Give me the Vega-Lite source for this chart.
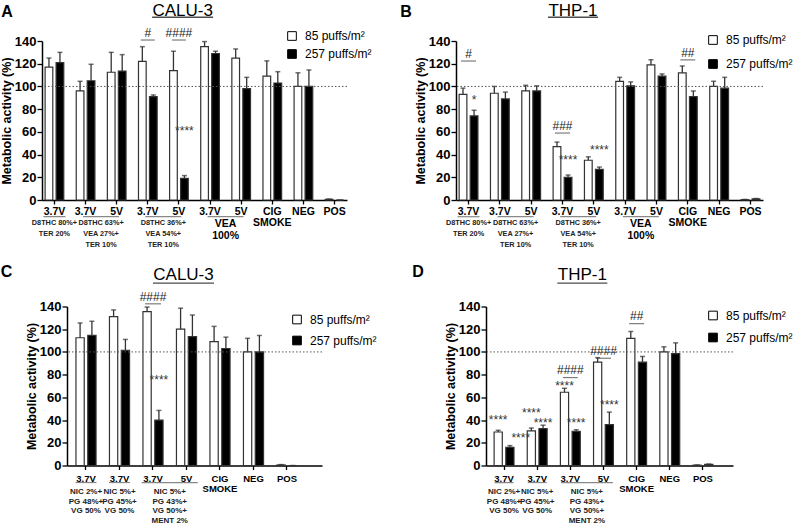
{
"$schema": "https://vega.github.io/schema/vega-lite/v6.json",
"padding": {"left": 0, "top": 2, "right": 0, "bottom": 0},
"config": {
  "view": {"stroke": null},
  "font": "Liberation Sans",
  "axis": {"grid": false, "domainColor": "black", "domainWidth": 1.5, "tickColor": "black", "tickWidth": 1.3, "labelColor": "black", "titleColor": "black"},
  "axisX": {"labels": false, "tickSize": 4},
  "axisY": {"tickSize": 5, "tickCount": 8, "labelFontSize": 13, "labelFontWeight": "bold", "labelPadding": 1, "labelOverlap": false, "titleFontSize": 12.5, "titleFontWeight": "bold", "titlePadding": 1},
  "legend": {"symbolType": "square", "symbolSize": 75, "symbolStrokeColor": "black", "symbolStrokeWidth": 1, "labelFontSize": 12, "labelColor": "black", "labelOffset": 7}
},
"datasets": {
  "barsA": [
    {"cat":"A1","dose":"85","val":117,"err":125},{"cat":"A1","dose":"257","val":121,"err":130},
    {"cat":"A2","dose":"85","val":96,"err":104.5},{"cat":"A2","dose":"257","val":105,"err":119.5},
    {"cat":"A3","dose":"85","val":112.5,"err":130},{"cat":"A3","dose":"257","val":113.5,"err":128},
    {"cat":"A4","dose":"85","val":122,"err":135},{"cat":"A4","dose":"257","val":91,"err":92.5},
    {"cat":"A5","dose":"85","val":114,"err":131},{"cat":"A5","dose":"257","val":19,"err":21.5},
    {"cat":"A6","dose":"85","val":135,"err":139.5},{"cat":"A6","dose":"257","val":129,"err":131},
    {"cat":"A7","dose":"85","val":125,"err":133},{"cat":"A7","dose":"257","val":98,"err":108},
    {"cat":"A8","dose":"85","val":109,"err":122.5},{"cat":"A8","dose":"257","val":103,"err":113},
    {"cat":"A9","dose":"85","val":100,"err":112},{"cat":"A9","dose":"257","val":100,"err":114.5},
    {"cat":"A10","dose":"85","val":0.6,"err":0.9},{"cat":"A10","dose":"257","val":0,"err":0}
  ],
  "barsB": [
    {"cat":"B1","dose":"85","val":93,"err":98.5},{"cat":"B1","dose":"257","val":74,"err":79},
    {"cat":"B2","dose":"85","val":94,"err":100},{"cat":"B2","dose":"257","val":89,"err":95},
    {"cat":"B3","dose":"85","val":96,"err":101},{"cat":"B3","dose":"257","val":96,"err":100.5},
    {"cat":"B4","dose":"85","val":47,"err":51},{"cat":"B4","dose":"257","val":20,"err":22},
    {"cat":"B5","dose":"85","val":35,"err":38},{"cat":"B5","dose":"257","val":27,"err":29},
    {"cat":"B6","dose":"85","val":104.5,"err":108},{"cat":"B6","dose":"257","val":100.5,"err":104},
    {"cat":"B7","dose":"85","val":119,"err":123.5},{"cat":"B7","dose":"257","val":109,"err":111},
    {"cat":"B8","dose":"85","val":112,"err":118},{"cat":"B8","dose":"257","val":91,"err":96},
    {"cat":"B9","dose":"85","val":100,"err":104.5},{"cat":"B9","dose":"257","val":98.5,"err":108},
    {"cat":"B10","dose":"85","val":0.3,"err":0.5},{"cat":"B10","dose":"257","val":1,"err":1.3}
  ],
  "barsC": [
    {"cat":"C1","dose":"85","val":112.5,"err":125.5},{"cat":"C1","dose":"257","val":114.5,"err":127},
    {"cat":"C2","dose":"85","val":131,"err":137},{"cat":"C2","dose":"257","val":101.5,"err":111},
    {"cat":"C3","dose":"85","val":135.5,"err":139.5},{"cat":"C3","dose":"257","val":40,"err":48.5},
    {"cat":"C4","dose":"85","val":120,"err":138.5},{"cat":"C4","dose":"257","val":113.5,"err":132.5},
    {"cat":"C5","dose":"85","val":109,"err":122.5},{"cat":"C5","dose":"257","val":103,"err":113},
    {"cat":"C6","dose":"85","val":100,"err":112},{"cat":"C6","dose":"257","val":100,"err":114.5},
    {"cat":"C7","dose":"85","val":0.5,"err":0.8},{"cat":"C7","dose":"257","val":0,"err":0}
  ],
  "barsD": [
    {"cat":"D1","dose":"85","val":29.5,"err":31},{"cat":"D1","dose":"257","val":16,"err":17.5},
    {"cat":"D2","dose":"85","val":30.5,"err":33},{"cat":"D2","dose":"257","val":32.5,"err":35.5},
    {"cat":"D3","dose":"85","val":64.5,"err":68},{"cat":"D3","dose":"257","val":30,"err":31.5},
    {"cat":"D4","dose":"85","val":91,"err":95},{"cat":"D4","dose":"257","val":36,"err":47},
    {"cat":"D5","dose":"85","val":112,"err":118},{"cat":"D5","dose":"257","val":91,"err":96},
    {"cat":"D6","dose":"85","val":100,"err":104.5},{"cat":"D6","dose":"257","val":98.5,"err":108},
    {"cat":"D7","dose":"85","val":0.3,"err":0.5},{"cat":"D7","dose":"257","val":1,"err":1.3}
  ],
  "labA": [
    {"cat":"A1","lab":"3.7V"},{"cat":"A2","lab":"3.7V"},{"cat":"A3","lab":"5V"},{"cat":"A4","lab":"3.7V"},{"cat":"A5","lab":"5V"},
    {"cat":"A6","lab":"3.7V"},{"cat":"A7","lab":"5V"},{"cat":"A8","lab":"CIG\nSMOKE"},{"cat":"A9","lab":"NEG"},{"cat":"A10","lab":"POS"}
  ],
  "labB": [
    {"cat":"B1","lab":"3.7V"},{"cat":"B2","lab":"3.7V"},{"cat":"B3","lab":"5V"},{"cat":"B4","lab":"3.7V"},{"cat":"B5","lab":"5V"},
    {"cat":"B6","lab":"3.7V"},{"cat":"B7","lab":"5V"},{"cat":"B8","lab":"CIG\nSMOKE"},{"cat":"B9","lab":"NEG"},{"cat":"B10","lab":"POS"}
  ],
  "labC": [
    {"cat":"C1","lab":"3.7V"},{"cat":"C2","lab":"3.7V"},{"cat":"C3","lab":"3.7V"},{"cat":"C4","lab":"5V"},
    {"cat":"C5","lab":"CIG\nSMOKE"},{"cat":"C6","lab":"NEG"},{"cat":"C7","lab":"POS"}
  ],
  "labD": [
    {"cat":"D1","lab":"3.7V"},{"cat":"D2","lab":"3.7V"},{"cat":"D3","lab":"3.7V"},{"cat":"D4","lab":"5V"},
    {"cat":"D5","lab":"CIG\nSMOKE"},{"cat":"D6","lab":"NEG"},{"cat":"D7","lab":"POS"}
  ],
  "subA": [
    {"cat":"A1","sub":"D8THC 80%+\nTER 20%","span":false},
    {"cat":"A2","sub":"D8THC 63%+\nVEA 27%+\nTER 10%","span":true},
    {"cat":"A4","sub":"D8THC 36%+\nVEA 54%+\nTER 10%","span":true},
    {"cat":"A6","sub":"VEA\n100%","span":true}
  ],
  "subB": [
    {"cat":"B1","sub":"D8THC 80%+\nTER 20%","span":false},
    {"cat":"B2","sub":"D8THC 63%+\nVEA 27%+\nTER 10%","span":true},
    {"cat":"B4","sub":"D8THC 36%+\nVEA 54%+\nTER 10%","span":true},
    {"cat":"B6","sub":"VEA\n100%","span":true}
  ],
  "subC": [
    {"cat":"C1","sub":"NIC 2%+\nPG 48%+\nVG 50%","span":false},
    {"cat":"C2","sub":"NIC 5%+\nPG 45%+\nVG 50%","span":false},
    {"cat":"C3","sub":"NIC 5%+\nPG 43%+\nVG 50%+\nMENT 2%","span":true}
  ],
  "subD": [
    {"cat":"D1","sub":"NIC 2%+\nPG 48%+\nVG 50%","span":false},
    {"cat":"D2","sub":"NIC 5%+\nPG 45%+\nVG 50%","span":false},
    {"cat":"D3","sub":"NIC 5%+\nPG 43%+\nVG 50%+\nMENT 2%","span":true}
  ],
  "hashA": [{"cat":"A4","txt":"#","y":143.5},{"cat":"A5","txt":"####","y":143.5}],
  "hashB": [{"cat":"B1","txt":"#","y":125},{"cat":"B4","txt":"###","y":61.6},{"cat":"B8","txt":"##","y":126}],
  "hashC": [{"cat":"C3","txt":"####","y":145}],
  "hashD": [{"cat":"D3","txt":"####","y":80.5},{"cat":"D4","txt":"####","y":97.5},{"cat":"D5","txt":"##","y":128}],
  "starA": [{"cat":"A5","dose":"257","txt":"****","y":57.5,"side":"c"}],
  "starB": [
    {"cat":"B1","dose":"257","txt":"*","y":84.8,"side":"c"},
    {"cat":"B4","dose":"257","txt":"****","y":32,"side":"c"},
    {"cat":"B5","dose":"257","txt":"****","y":40.8,"side":"c"}
  ],
  "starC": [{"cat":"C3","dose":"257","txt":"****","y":71.6,"side":"c"}],
  "starD": [
    {"cat":"D1","dose":"85","txt":"****","y":36.6,"side":"c"},
    {"cat":"D1","dose":"257","txt":"****","y":20.5,"side":"r"},
    {"cat":"D2","dose":"85","txt":"****","y":42.4,"side":"c"},
    {"cat":"D2","dose":"257","txt":"****","y":33.6,"side":"c"},
    {"cat":"D3","dose":"85","txt":"****","y":66.4,"side":"c"},
    {"cat":"D3","dose":"257","txt":"****","y":33.6,"side":"c"},
    {"cat":"D4","dose":"257","txt":"****","y":49.5,"side":"c"}
  ]
},
"spacing": 23,
"bounds": "full",
"resolve": {"scale": {"x": "independent", "y": "independent", "fill": "independent", "xOffset": "independent"}, "legend": {"fill": "independent"}, "axis": {"x": "independent", "y": "independent"}},
"hconcat": [
{
"vconcat": [
{
  "width": 305, "height": 159,
  "layer": [
    {"data": {"name": "barsA"}, "mark": {"type": "bar", "stroke": "#333", "strokeWidth": 1.2},
     "encoding": {
      "x": {"field": "cat", "type": "nominal", "title": null, "scale": {"domain": ["A1","A2","A3","A4","A5","A6","A7","A8","A9","A10"], "paddingInner": 0.4, "paddingOuter": 0.1}},
      "xOffset": {"field": "dose", "type": "nominal", "scale": {"domain": ["85","257"], "paddingInner": 0.3}},
      "y": {"field": "val", "type": "quantitative", "scale": {"domain": [0, 140], "nice": false}, "axis": {"title": "Metabolic activity (%)", "values": [0,20,40,60,80,100,120,140]}},
      "fill": {"field": "dose", "type": "nominal", "scale": {"domain": ["85","257"], "range": ["white","black"]},
               "legend": {"title": null, "orient": "none", "legendX": 244, "legendY": -11, "rowPadding": 4, "labelExpr": "datum.label + ' puffs/m²'"}}
     }},
    {"data": {"name": "barsA"}, "mark": {"type": "rule", "color": "#333", "strokeWidth": 1.3},
     "encoding": {"x": {"field": "cat", "type": "nominal"}, "xOffset": {"field": "dose", "type": "nominal"}, "y": {"field": "val", "type": "quantitative"}, "y2": {"field": "err"}}},
    {"data": {"name": "barsA"}, "mark": {"type": "tick", "orient": "horizontal", "size": 5, "thickness": 1.5, "color": "#333"},
     "encoding": {"x": {"field": "cat", "type": "nominal"}, "xOffset": {"field": "dose", "type": "nominal"}, "y": {"field": "err", "type": "quantitative"}}},
    {"data": {"values": [{}]}, "mark": {"type": "rule", "color": "#555", "strokeDash": [1.5, 2], "strokeWidth": 1}, "encoding": {"y": {"datum": 100}}},
    {"data": {"name": "labA"}, "mark": {"type": "text", "baseline": "top", "fontSize": 10.5, "fontWeight": "bold", "lineBreak": "\n", "lineHeight": 11, "color": "black"},
     "encoding": {"x": {"field": "cat", "type": "nominal"}, "y": {"datum": -6.2}, "text": {"field": "lab"}}},
    {"data": {"name": "subA"}, "transform": [{"filter": "!datum.span"}], "mark": {"type": "text", "baseline": "top", "fontSize": 7.3, "fontWeight": "bold", "lineBreak": "\n", "lineHeight": 11, "color": "#222"},
     "encoding": {"x": {"field": "cat", "type": "nominal"}, "y": {"datum": -17}, "text": {"field": "sub"}}},
    {"data": {"name": "subA"}, "transform": [{"filter": "datum.span && datum.cat != 'A6'"}], "mark": {"type": "text", "baseline": "top", "fontSize": 7.3, "fontWeight": "bold", "lineBreak": "\n", "lineHeight": 11, "color": "#222", "dx": 15.5},
     "encoding": {"x": {"field": "cat", "type": "nominal"}, "y": {"datum": -17}, "text": {"field": "sub"}}},
    {"data": {"name": "subA"}, "transform": [{"filter": "datum.cat == 'A6'"}], "mark": {"type": "text", "baseline": "top", "fontSize": 10.5, "fontWeight": "bold", "lineBreak": "\n", "lineHeight": 11.5, "color": "black", "dx": 15.5},
     "encoding": {"x": {"field": "cat", "type": "nominal"}, "y": {"datum": -17}, "text": {"field": "sub"}}},
    {"data": {"name": "subA"}, "transform": [{"filter": "!datum.span"}], "mark": {"type": "tick", "orient": "horizontal", "size": 22, "thickness": 1.2, "color": "#555"},
     "encoding": {"x": {"field": "cat", "type": "nominal"}, "y": {"datum": -14.7}}},
    {"data": {"name": "subA"}, "transform": [{"filter": "datum.span"}], "mark": {"type": "tick", "orient": "horizontal", "size": 36, "thickness": 1.2, "color": "#555", "xOffset": 15.5},
     "encoding": {"x": {"field": "cat", "type": "nominal"}, "y": {"datum": -14.7}}},
    {"data": {"name": "hashA"}, "mark": {"type": "text", "baseline": "alphabetic", "fontSize": 12, "color": "#222"},
     "encoding": {"x": {"field": "cat", "type": "nominal"}, "y": {"field": "y", "type": "quantitative"}, "text": {"field": "txt"}}},
    {"data": {"name": "hashA"}, "mark": {"type": "tick", "orient": "horizontal", "size": 14, "thickness": 1.2, "color": "#444", "yOffset": 3},
     "encoding": {"x": {"field": "cat", "type": "nominal"}, "y": {"field": "y", "type": "quantitative"}}},
    {"data": {"name": "starA"}, "mark": {"type": "text", "baseline": "alphabetic", "fontSize": 12, "color": "#333"},
     "encoding": {"x": {"field": "cat", "type": "nominal"}, "xOffset": {"field": "dose", "type": "nominal"}, "y": {"field": "y", "type": "quantitative"}, "text": {"field": "txt"}}},
    {"data": {"values": [{}]}, "mark": {"type": "text", "fontSize": 17, "baseline": "middle", "dx": 3.7, "color": "black"},
     "encoding": {"x": {"datum": "A5", "type": "nominal"}, "y": {"datum": 166}, "text": {"value": "CALU-3"}}},
    {"data": {"values": [{}]}, "mark": {"type": "tick", "orient": "horizontal", "size": 61, "thickness": 1.3, "color": "black", "xOffset": 3.7},
     "encoding": {"x": {"datum": "A5", "type": "nominal"}, "y": {"datum": 160.9}}},
    {"data": {"values": [{}]}, "mark": {"type": "text", "fontSize": 16, "fontWeight": "bold", "baseline": "middle", "dx": -47.4, "color": "black"},
     "encoding": {"x": {"datum": "A1", "type": "nominal"}, "y": {"datum": 165.7}, "text": {"value": "A"}}}
  ]
},
{
  "width": 255, "height": 159,
  "layer": [
    {"data": {"name": "barsC"}, "mark": {"type": "bar", "stroke": "#333", "strokeWidth": 1.2},
     "encoding": {
      "x": {"field": "cat", "type": "nominal", "title": null, "scale": {"domain": ["C1","C2","C3","C4","C5","C6","C7"], "paddingInner": 0.4, "paddingOuter": 0.506, "align": 0.264}},
      "xOffset": {"field": "dose", "type": "nominal", "scale": {"domain": ["85","257"], "paddingInner": 0.3}},
      "y": {"field": "val", "type": "quantitative", "scale": {"domain": [0, 140], "nice": false}, "axis": {"title": "Metabolic activity (%)", "values": [0,20,40,60,80,100,120,140]}},
      "fill": {"field": "dose", "type": "nominal", "scale": {"domain": ["85","257"], "range": ["white","black"]},
               "legend": {"title": null, "orient": "none", "legendX": 224, "legendY": 7, "rowPadding": 7, "labelExpr": "datum.label + ' puffs/m²'"}}
     }},
    {"data": {"name": "barsC"}, "mark": {"type": "rule", "color": "#333", "strokeWidth": 1.3},
     "encoding": {"x": {"field": "cat", "type": "nominal"}, "xOffset": {"field": "dose", "type": "nominal"}, "y": {"field": "val", "type": "quantitative"}, "y2": {"field": "err"}}},
    {"data": {"name": "barsC"}, "mark": {"type": "tick", "orient": "horizontal", "size": 5, "thickness": 1.5, "color": "#333"},
     "encoding": {"x": {"field": "cat", "type": "nominal"}, "xOffset": {"field": "dose", "type": "nominal"}, "y": {"field": "err", "type": "quantitative"}}},
    {"data": {"values": [{}]}, "mark": {"type": "rule", "color": "#555", "strokeDash": [1.5, 2], "strokeWidth": 1}, "encoding": {"y": {"datum": 100}}},
    {"data": {"name": "labC"}, "mark": {"type": "text", "baseline": "top", "fontSize": 9.5, "fontWeight": "bold", "lineBreak": "\n", "lineHeight": 10, "color": "black"},
     "encoding": {"x": {"field": "cat", "type": "nominal"}, "y": {"datum": -7.9}, "text": {"field": "lab"}}},
    {"data": {"name": "subC"}, "transform": [{"filter": "!datum.span"}], "mark": {"type": "text", "baseline": "top", "fontSize": 8, "fontWeight": "bold", "lineBreak": "\n", "lineHeight": 9.8, "color": "#222"},
     "encoding": {"x": {"field": "cat", "type": "nominal"}, "y": {"datum": -19.6}, "text": {"field": "sub"}}},
    {"data": {"name": "subC"}, "transform": [{"filter": "datum.span"}], "mark": {"type": "text", "baseline": "top", "fontSize": 8, "fontWeight": "bold", "lineBreak": "\n", "lineHeight": 9.8, "color": "#222", "dx": 16.75},
     "encoding": {"x": {"field": "cat", "type": "nominal"}, "y": {"datum": -19.6}, "text": {"field": "sub"}}},
    {"data": {"name": "subC"}, "transform": [{"filter": "!datum.span"}], "mark": {"type": "tick", "orient": "horizontal", "size": 21, "thickness": 1.2, "color": "#555"},
     "encoding": {"x": {"field": "cat", "type": "nominal"}, "y": {"datum": -15}}},
    {"data": {"name": "subC"}, "transform": [{"filter": "datum.span"}], "mark": {"type": "tick", "orient": "horizontal", "size": 56, "thickness": 1.2, "color": "#555", "xOffset": 16.75},
     "encoding": {"x": {"field": "cat", "type": "nominal"}, "y": {"datum": -15}}},
    {"data": {"name": "hashC"}, "mark": {"type": "text", "baseline": "alphabetic", "fontSize": 12, "color": "#222"},
     "encoding": {"x": {"field": "cat", "type": "nominal"}, "y": {"field": "y", "type": "quantitative"}, "text": {"field": "txt"}}},
    {"data": {"name": "hashC"}, "mark": {"type": "tick", "orient": "horizontal", "size": 16, "thickness": 1.2, "color": "#444", "yOffset": 3},
     "encoding": {"x": {"field": "cat", "type": "nominal"}, "y": {"field": "y", "type": "quantitative"}}},
    {"data": {"name": "starC"}, "mark": {"type": "text", "baseline": "alphabetic", "fontSize": 12, "color": "#333"},
     "encoding": {"x": {"field": "cat", "type": "nominal"}, "xOffset": {"field": "dose", "type": "nominal"}, "y": {"field": "y", "type": "quantitative"}, "text": {"field": "txt"}}},
    {"data": {"values": [{}]}, "mark": {"type": "text", "fontSize": 17, "baseline": "middle", "dx": -3, "color": "black"},
     "encoding": {"x": {"datum": "C4", "type": "nominal"}, "y": {"datum": 168}, "text": {"value": "CALU-3"}}},
    {"data": {"values": [{}]}, "mark": {"type": "tick", "orient": "horizontal", "size": 61, "thickness": 1.3, "color": "black", "xOffset": -3},
     "encoding": {"x": {"datum": "C4", "type": "nominal"}, "y": {"datum": 160.5}}},
    {"data": {"values": [{}]}, "mark": {"type": "text", "fontSize": 16, "fontWeight": "bold", "baseline": "middle", "dx": -79.5, "color": "black"},
     "encoding": {"x": {"datum": "C1", "type": "nominal"}, "y": {"datum": 170}, "text": {"value": "C"}}}
  ]
}
],
"spacing": 106.5, "bounds": "flush", "center": true,
"resolve": {"scale": {"x": "independent", "y": "independent", "fill": "independent", "xOffset": "independent"}, "legend": {"fill": "independent"}, "axis": {"x": "independent", "y": "independent"}}
},
{
"vconcat": [
{
  "width": 307, "height": 159,
  "layer": [
    {"data": {"name": "barsB"}, "mark": {"type": "bar", "stroke": "#333", "strokeWidth": 1.2},
     "encoding": {
      "x": {"field": "cat", "type": "nominal", "title": null, "scale": {"domain": ["B1","B2","B3","B4","B5","B6","B7","B8","B9","B10"], "paddingInner": 0.4, "paddingOuter": 0.1}},
      "xOffset": {"field": "dose", "type": "nominal", "scale": {"domain": ["85","257"], "paddingInner": 0.3}},
      "y": {"field": "val", "type": "quantitative", "scale": {"domain": [0, 140], "nice": false}, "axis": {"title": "Metabolic activity (%)", "values": [0,20,40,60,80,100,120,140]}},
      "fill": {"field": "dose", "type": "nominal", "scale": {"domain": ["85","257"], "range": ["white","black"]},
               "legend": {"title": null, "orient": "none", "legendX": 251, "legendY": -7, "rowPadding": 10, "labelExpr": "datum.label + ' puffs/m²'"}}
     }},
    {"data": {"name": "barsB"}, "mark": {"type": "rule", "color": "#333", "strokeWidth": 1.3},
     "encoding": {"x": {"field": "cat", "type": "nominal"}, "xOffset": {"field": "dose", "type": "nominal"}, "y": {"field": "val", "type": "quantitative"}, "y2": {"field": "err"}}},
    {"data": {"name": "barsB"}, "mark": {"type": "tick", "orient": "horizontal", "size": 5, "thickness": 1.5, "color": "#333"},
     "encoding": {"x": {"field": "cat", "type": "nominal"}, "xOffset": {"field": "dose", "type": "nominal"}, "y": {"field": "err", "type": "quantitative"}}},
    {"data": {"values": [{}]}, "mark": {"type": "rule", "color": "#555", "strokeDash": [1.5, 2], "strokeWidth": 1}, "encoding": {"y": {"datum": 100}}},
    {"data": {"name": "labB"}, "mark": {"type": "text", "baseline": "top", "fontSize": 10.5, "fontWeight": "bold", "lineBreak": "\n", "lineHeight": 11, "color": "black"},
     "encoding": {"x": {"field": "cat", "type": "nominal"}, "y": {"datum": -6.2}, "text": {"field": "lab"}}},
    {"data": {"name": "subB"}, "transform": [{"filter": "!datum.span"}], "mark": {"type": "text", "baseline": "top", "fontSize": 7.3, "fontWeight": "bold", "lineBreak": "\n", "lineHeight": 11, "color": "#222"},
     "encoding": {"x": {"field": "cat", "type": "nominal"}, "y": {"datum": -17}, "text": {"field": "sub"}}},
    {"data": {"name": "subB"}, "transform": [{"filter": "datum.span && datum.cat != 'B6'"}], "mark": {"type": "text", "baseline": "top", "fontSize": 7.3, "fontWeight": "bold", "lineBreak": "\n", "lineHeight": 11, "color": "#222", "dx": 15.7},
     "encoding": {"x": {"field": "cat", "type": "nominal"}, "y": {"datum": -17}, "text": {"field": "sub"}}},
    {"data": {"name": "subB"}, "transform": [{"filter": "datum.cat == 'B6'"}], "mark": {"type": "text", "baseline": "top", "fontSize": 10.5, "fontWeight": "bold", "lineBreak": "\n", "lineHeight": 11.5, "color": "black", "dx": 15.7},
     "encoding": {"x": {"field": "cat", "type": "nominal"}, "y": {"datum": -17}, "text": {"field": "sub"}}},
    {"data": {"name": "subB"}, "transform": [{"filter": "!datum.span"}], "mark": {"type": "tick", "orient": "horizontal", "size": 22, "thickness": 1.2, "color": "#555"},
     "encoding": {"x": {"field": "cat", "type": "nominal"}, "y": {"datum": -14.7}}},
    {"data": {"name": "subB"}, "transform": [{"filter": "datum.span"}], "mark": {"type": "tick", "orient": "horizontal", "size": 36, "thickness": 1.2, "color": "#555", "xOffset": 15.7},
     "encoding": {"x": {"field": "cat", "type": "nominal"}, "y": {"datum": -14.7}}},
    {"data": {"name": "hashB"}, "mark": {"type": "text", "baseline": "alphabetic", "fontSize": 12, "color": "#222"},
     "encoding": {"x": {"field": "cat", "type": "nominal"}, "y": {"field": "y", "type": "quantitative"}, "text": {"field": "txt"}}},
    {"data": {"name": "hashB"}, "mark": {"type": "tick", "orient": "horizontal", "size": 15, "thickness": 1.2, "color": "#444", "yOffset": 3},
     "encoding": {"x": {"field": "cat", "type": "nominal"}, "y": {"field": "y", "type": "quantitative"}}},
    {"data": {"name": "starB"}, "mark": {"type": "text", "baseline": "alphabetic", "fontSize": 12, "color": "#333"},
     "encoding": {"x": {"field": "cat", "type": "nominal"}, "xOffset": {"field": "dose", "type": "nominal"}, "y": {"field": "y", "type": "quantitative"}, "text": {"field": "txt"}}},
    {"data": {"values": [{}]}, "mark": {"type": "text", "fontSize": 17, "baseline": "middle", "dx": 10.5, "color": "black"},
     "encoding": {"x": {"datum": "B4", "type": "nominal"}, "y": {"datum": 166}, "text": {"value": "THP-1"}}},
    {"data": {"values": [{}]}, "mark": {"type": "tick", "orient": "horizontal", "size": 50, "thickness": 1.3, "color": "black", "xOffset": 10.5},
     "encoding": {"x": {"datum": "B4", "type": "nominal"}, "y": {"datum": 160.9}}},
    {"data": {"values": [{}]}, "mark": {"type": "text", "fontSize": 16, "fontWeight": "bold", "baseline": "middle", "dx": -62.5, "color": "black"},
     "encoding": {"x": {"datum": "B1", "type": "nominal"}, "y": {"datum": 165.7}, "text": {"value": "B"}}}
  ]
},
{
  "width": 247, "height": 159,
  "layer": [
    {"data": {"name": "barsD"}, "mark": {"type": "bar", "stroke": "#333", "strokeWidth": 1.2},
     "encoding": {
      "x": {"field": "cat", "type": "nominal", "title": null, "scale": {"domain": ["D1","D2","D3","D4","D5","D6","D7"], "paddingInner": 0.4, "paddingOuter": 0.426, "align": 0.287}},
      "xOffset": {"field": "dose", "type": "nominal", "scale": {"domain": ["85","257"], "paddingInner": 0.3}},
      "y": {"field": "val", "type": "quantitative", "scale": {"domain": [0, 140], "nice": false}, "axis": {"title": "Metabolic activity (%)", "values": [0,20,40,60,80,100,120,140]}},
      "fill": {"field": "dose", "type": "nominal", "scale": {"domain": ["85","257"], "range": ["white","black"]},
               "legend": {"title": null, "orient": "none", "legendX": 221, "legendY": 3, "rowPadding": 8, "labelExpr": "datum.label + ' puffs/m²'"}}
     }},
    {"data": {"name": "barsD"}, "mark": {"type": "rule", "color": "#333", "strokeWidth": 1.3},
     "encoding": {"x": {"field": "cat", "type": "nominal"}, "xOffset": {"field": "dose", "type": "nominal"}, "y": {"field": "val", "type": "quantitative"}, "y2": {"field": "err"}}},
    {"data": {"name": "barsD"}, "mark": {"type": "tick", "orient": "horizontal", "size": 5, "thickness": 1.5, "color": "#333"},
     "encoding": {"x": {"field": "cat", "type": "nominal"}, "xOffset": {"field": "dose", "type": "nominal"}, "y": {"field": "err", "type": "quantitative"}}},
    {"data": {"values": [{}]}, "mark": {"type": "rule", "color": "#555", "strokeDash": [1.5, 2], "strokeWidth": 1}, "encoding": {"y": {"datum": 100}}},
    {"data": {"name": "labD"}, "mark": {"type": "text", "baseline": "top", "fontSize": 9.5, "fontWeight": "bold", "lineBreak": "\n", "lineHeight": 10, "color": "black"},
     "encoding": {"x": {"field": "cat", "type": "nominal"}, "y": {"datum": -7.9}, "text": {"field": "lab"}}},
    {"data": {"name": "subD"}, "transform": [{"filter": "!datum.span"}], "mark": {"type": "text", "baseline": "top", "fontSize": 8, "fontWeight": "bold", "lineBreak": "\n", "lineHeight": 9.8, "color": "#222"},
     "encoding": {"x": {"field": "cat", "type": "nominal"}, "y": {"datum": -19.6}, "text": {"field": "sub"}}},
    {"data": {"name": "subD"}, "transform": [{"filter": "datum.span"}], "mark": {"type": "text", "baseline": "top", "fontSize": 8, "fontWeight": "bold", "lineBreak": "\n", "lineHeight": 9.8, "color": "#222", "dx": 16.55},
     "encoding": {"x": {"field": "cat", "type": "nominal"}, "y": {"datum": -19.6}, "text": {"field": "sub"}}},
    {"data": {"name": "subD"}, "transform": [{"filter": "!datum.span"}], "mark": {"type": "tick", "orient": "horizontal", "size": 19, "thickness": 1.2, "color": "#555"},
     "encoding": {"x": {"field": "cat", "type": "nominal"}, "y": {"datum": -15}}},
    {"data": {"name": "subD"}, "transform": [{"filter": "datum.span"}], "mark": {"type": "tick", "orient": "horizontal", "size": 52, "thickness": 1.2, "color": "#555", "xOffset": 16.55},
     "encoding": {"x": {"field": "cat", "type": "nominal"}, "y": {"datum": -15}}},
    {"data": {"name": "hashD"}, "mark": {"type": "text", "baseline": "alphabetic", "fontSize": 12, "color": "#222"},
     "encoding": {"x": {"field": "cat", "type": "nominal"}, "y": {"field": "y", "type": "quantitative"}, "text": {"field": "txt"}}},
    {"data": {"name": "hashD"}, "mark": {"type": "tick", "orient": "horizontal", "size": 15, "thickness": 1.2, "color": "#444", "yOffset": 3.5},
     "encoding": {"x": {"field": "cat", "type": "nominal"}, "y": {"field": "y", "type": "quantitative"}}},
    {"data": {"name": "starD"}, "transform": [{"filter": "datum.side == 'c'"}], "mark": {"type": "text", "baseline": "alphabetic", "fontSize": 12, "color": "#333"},
     "encoding": {"x": {"field": "cat", "type": "nominal"}, "xOffset": {"field": "dose", "type": "nominal"}, "y": {"field": "y", "type": "quantitative"}, "text": {"field": "txt"}}},
    {"data": {"name": "starD"}, "transform": [{"filter": "datum.side == 'r'"}], "mark": {"type": "text", "baseline": "alphabetic", "align": "left", "dx": 1.5, "fontSize": 12, "color": "#333"},
     "encoding": {"x": {"field": "cat", "type": "nominal"}, "xOffset": {"field": "dose", "type": "nominal"}, "y": {"field": "y", "type": "quantitative"}, "text": {"field": "txt"}}},
    {"data": {"values": [{}]}, "mark": {"type": "text", "fontSize": 17, "baseline": "middle", "dx": 12, "color": "black"},
     "encoding": {"x": {"datum": "D3", "type": "nominal"}, "y": {"datum": 168}, "text": {"value": "THP-1"}}},
    {"data": {"values": [{}]}, "mark": {"type": "tick", "orient": "horizontal", "size": 50, "thickness": 1.3, "color": "black", "xOffset": 12},
     "encoding": {"x": {"datum": "D3", "type": "nominal"}, "y": {"datum": 160.5}}},
    {"data": {"values": [{}]}, "mark": {"type": "text", "fontSize": 16, "fontWeight": "bold", "baseline": "middle", "dx": -86, "color": "black"},
     "encoding": {"x": {"datum": "D1", "type": "nominal"}, "y": {"datum": 170}, "text": {"value": "D"}}}
  ]
}
],
"spacing": 106.5, "bounds": "flush", "center": true,
"resolve": {"scale": {"x": "independent", "y": "independent", "fill": "independent", "xOffset": "independent"}, "legend": {"fill": "independent"}, "axis": {"x": "independent", "y": "independent"}}
}
]
}
